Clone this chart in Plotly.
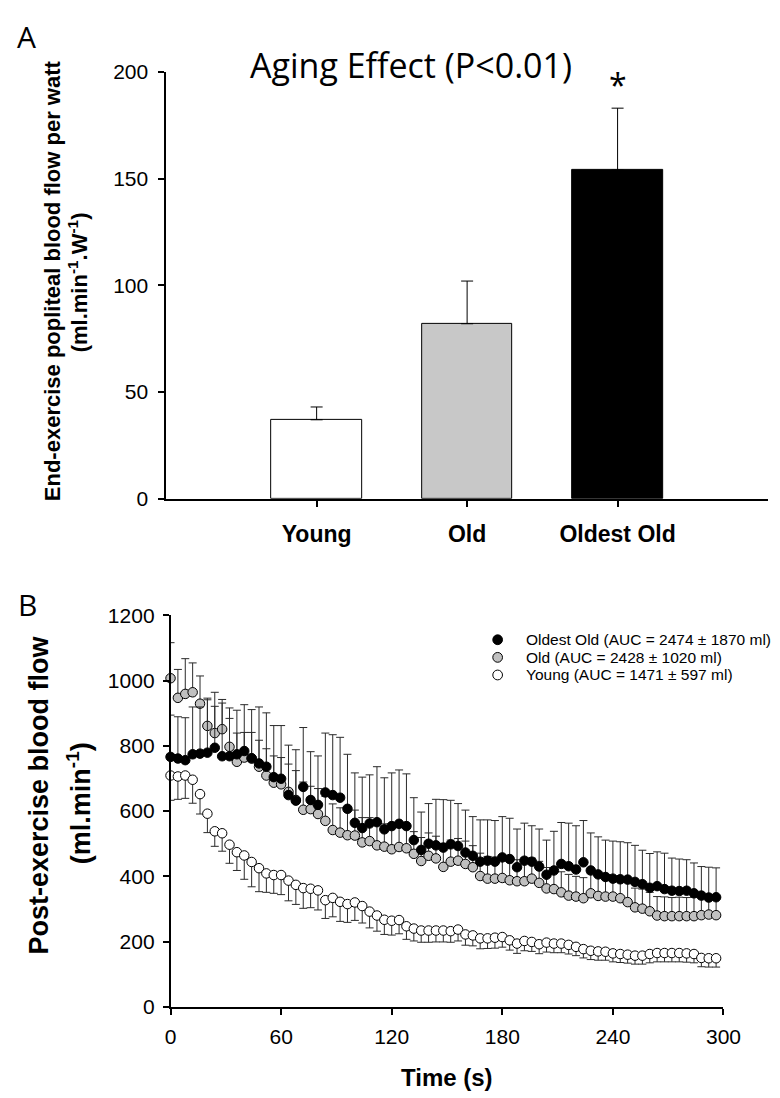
import plotly.graph_objects as go

# ---------------- Panel A data ----------------
groups = ["Young", "Old", "Oldest Old"]
group_pos = [0, 1, 2]
flow_per_watt = [37, 82, 154]
flow_per_watt_err = [6, 20, 29]
bar_colors = ["#ffffff", "#c8c8c8", "#000000"]

# ---------------- Panel B data ----------------
time_s = [0, 4, 8, 12, 16, 20, 24, 28, 32, 36, 40, 44, 48, 52, 56, 60, 64, 68, 72, 76,
          80, 84, 88, 92, 96, 100, 104, 108, 112, 116, 120, 124, 128, 132, 136, 140, 144, 148, 152, 156,
          160, 164, 168, 172, 176, 180, 184, 188, 192, 196, 200, 204, 208, 212, 216, 220, 224, 228, 232, 236,
          240, 244, 248, 252, 256, 260, 264, 268, 272, 276, 280, 284, 288, 292, 296]

oldest_old = [766, 761, 756, 774, 776, 779, 794, 768, 768, 774, 784, 762, 746, 736, 704, 699, 649, 632, 674, 634,
              619, 657, 649, 641, 607, 564, 548, 562, 566, 544, 554, 561, 554, 511, 481, 500, 495, 488, 498, 493,
              473, 463, 445, 448, 445, 458, 453, 428, 448, 445, 430, 405, 418, 438, 431, 421, 443, 418, 406, 398,
              393, 391, 390, 383, 376, 365, 370, 361, 356, 355, 356, 348, 341, 335, 336]
oldest_old_err = [128, 128, 130, 145, 143, 167, 170, 174, 148, 135, 142, 149, 173, 165, 158, 163, 153, 156, 182, 148,
                  150, 182, 185, 185, 167, 153, 156, 149, 170, 158, 163, 165, 160, 130, 116, 123, 141, 147, 135, 130,
                  130, 120, 128, 125, 126, 125, 125, 117, 115, 110, 115, 106, 120, 127, 132, 134, 128, 115, 115, 113,
                  115, 115, 113, 112, 104, 105, 105, 110, 100, 98, 95, 93, 89, 93, 90]

old = [1007, 947, 959, 964, 929, 861, 839, 851, 797, 751, 764, 761, 736, 709, 687, 682, 659, 634, 604, 606,
       591, 570, 542, 534, 526, 525, 504, 508, 495, 491, 483, 490, 486, 469, 447, 463, 455, 429, 445, 448,
       438, 428, 401, 393, 393, 395, 388, 385, 385, 393, 380, 363, 361, 351, 341, 338, 333, 348, 340, 338,
       338, 333, 321, 305, 301, 293, 280, 278, 278, 278, 278, 278, 281, 283, 281]
old_err = [109, 87, 108, 90, 85, 80, 82, 80, 87, 88, 77, 80, 81, 82, 82, 82, 85, 90, 85, 70,
           78, 75, 80, 76, 74, 78, 76, 72, 75, 70, 74, 72, 70, 68, 72, 70, 68, 72, 66, 68,
           70, 66, 70, 68, 66, 67, 65, 66, 64, 63, 66, 64, 62, 63, 65, 62, 63, 60, 61, 60,
           62, 60, 61, 59, 60, 58, 58, 59, 57, 58, 57, 58, 56, 57, 56]

young = [709, 706, 709, 696, 652, 592, 538, 532, 497, 474, 464, 444, 425, 409, 404, 404, 387, 374, 364, 362,
         357, 327, 334, 322, 315, 320, 309, 292, 280, 267, 264, 266, 247, 240, 234, 234, 234, 234, 232, 237,
         222, 219, 210, 210, 212, 214, 204, 194, 202, 199, 192, 197, 194, 194, 190, 184, 177, 172, 170, 169,
         164, 162, 160, 157, 157, 162, 165, 165, 165, 165, 164, 162, 150, 149, 149]
young_err = [76, 70, 70, 72, 61, 58, 46, 55, 57, 56, 73, 76, 72, 58, 56, 60, 62, 60, 62, 58,
             60, 56, 58, 60, 56, 55, 52, 50, 48, 45, 44, 42, 40, 38, 36, 36, 35, 35, 34, 35,
             33, 32, 32, 31, 32, 31, 30, 30, 30, 29, 29, 29, 28, 28, 28, 27, 27, 27, 27, 26,
             26, 26, 26, 26, 26, 27, 27, 27, 27, 27, 27, 27, 27, 27, 27]

legend_labels = ["Oldest Old (AUC = 2474 \u00b1 1870 ml)",
                 "Old (AUC = 2428 \u00b1 1020 ml)",
                 "Young (AUC = 1471 \u00b1 597 ml)"]
legend_fills = ["black", "#c0c0c0", "white"]

y_ticks_a = [0, 50, 100, 150, 200]
y_ticks_b = [0, 200, 400, 600, 800, 1000, 1200]
x_ticks_b = [0, 60, 120, 180, 240, 300]

W, H = 780, 1098
SANS = "Liberation Sans, Arial, sans-serif"
CAL = "Open Sans, sans-serif"
ERRC = "#2a2a2a"
MSIZE = 9.5

fig = go.Figure()

# Panel A bars
fig.add_trace(go.Bar(
    x=group_pos, y=flow_per_watt, width=0.6,
    marker=dict(color=bar_colors, line=dict(color="black", width=1)),
    error_y=dict(type="data", array=flow_per_watt_err, arrayminus=[0, 0, 0], symmetric=False,
                 color="black", thickness=1, width=6),
    showlegend=False, xaxis="x", yaxis="y"))

# Panel B scatter (draw order: old, oldest old, young)
fig.add_trace(go.Scatter(
    x=time_s, y=old, mode="markers", name=legend_labels[1], showlegend=False,
    marker=dict(symbol="circle", size=MSIZE, color="#c0c0c0", line=dict(color="black", width=1)),
    error_y=dict(type="data", array=old_err, arrayminus=[0] * len(old_err), symmetric=False,
                 color=ERRC, thickness=1, width=4),
    cliponaxis=False, xaxis="x2", yaxis="y2"))
fig.add_trace(go.Scatter(
    x=time_s, y=oldest_old, mode="markers", name=legend_labels[0], showlegend=False,
    marker=dict(symbol="circle", size=MSIZE, color="black", line=dict(color="black", width=1)),
    error_y=dict(type="data", array=oldest_old_err, arrayminus=[0] * len(oldest_old_err), symmetric=False,
                 color=ERRC, thickness=1, width=4),
    cliponaxis=False, xaxis="x2", yaxis="y2"))
fig.add_trace(go.Scatter(
    x=time_s, y=young, mode="markers", name=legend_labels[2], showlegend=False,
    marker=dict(symbol="circle", size=MSIZE, color="white", line=dict(color="black", width=1)),
    error_y=dict(type="data", array=[0] * len(young_err), arrayminus=young_err, symmetric=False,
                 color=ERRC, thickness=1, width=4),
    cliponaxis=False, xaxis="x2", yaxis="y2"))

axis_common = dict(showline=True, linecolor="black", linewidth=1.5, ticks="outside", ticklen=6,
                   tickwidth=1.5, tickcolor="black", showgrid=False, zeroline=False, mirror=False)

fig.update_layout(
    width=W, height=H, autosize=False,
    margin=dict(l=0, r=0, t=0, b=0),
    paper_bgcolor="white", plot_bgcolor="white",
    bargap=0, showlegend=False,
    xaxis=dict(domain=[157 / W, 778 / W], range=[-1, 3], tickvals=group_pos, ticktext=groups,
               tickfont=dict(family=SANS, size=23, color="black", weight="bold"),
               ticklabelstandoff=8, anchor="y", **axis_common),
    yaxis=dict(domain=[1 - 489 / H, 1 - 53 / H], range=[0, 200], tickvals=y_ticks_a,
               tickfont=dict(family=SANS, size=21, color="black"), ticklabelstandoff=6,
               anchor="x", **axis_common),
    xaxis2=dict(domain=[161.5 / W, 732 / W], range=[0, 300], tickvals=x_ticks_b,
                tickfont=dict(family=SANS, size=21, color="black"), ticklabelstandoff=4,
                anchor="y2", **axis_common),
    yaxis2=dict(domain=[1 - 1008 / H, 1 - 608 / H], range=[0, 1200], tickvals=y_ticks_b,
                tickfont=dict(family=SANS, size=21, color="black"), ticklabelstandoff=4,
                anchor="x2", **axis_common),
)

ann = []
shapes = []
# Panel labels
ann.append(dict(text="A", x=1 / W, y=1 - 17 / H, xref="paper", yref="paper", xanchor="left", yanchor="middle",
                showarrow=False, font=dict(family=CAL, size=30, color="black")))
ann.append(dict(text="B", x=2 / W, y=1 - 597 / H, xref="paper", yref="paper", xanchor="left", yanchor="middle",
                showarrow=False, font=dict(family=CAL, size=30, color="black")))
# Panel A title
ann.append(dict(text="Aging Effect (P<0.01)", x=410 / W, y=1 - 46 / H, xref="paper", yref="paper",
                xanchor="center", yanchor="middle", showarrow=False,
                font=dict(family=CAL, size=34, color="black")))
# Asterisk
ann.append(dict(text="*", x=group_pos[2], y=194, xref="x", yref="y", xanchor="center", yanchor="middle",
                showarrow=False, font=dict(family=CAL, size=32, color="black")))
# Panel A y title (two lines)
ann.append(dict(text="<b>End-exercise popliteal blood flow per watt</b>", x=40 / W, y=1 - 266 / H,
                xref="paper", yref="paper", xanchor="center", yanchor="middle", textangle=-90,
                showarrow=False, font=dict(family=SANS, size=22, color="black")))
ann.append(dict(text="<b>(ml.min<sup>-1</sup>.W<sup>-1</sup>)</b>", x=66 / W, y=1 - 268 / H,
                xref="paper", yref="paper", xanchor="center", yanchor="middle", textangle=-90,
                showarrow=False, font=dict(family=SANS, size=22, color="black")))
# Panel B y title
ann.append(dict(text="<b>Post-exercise blood flow</b>", x=26 / W, y=1 - 792 / H,
                xref="paper", yref="paper", xanchor="center", yanchor="middle", textangle=-90,
                showarrow=False, font=dict(family=SANS, size=27, color="black")))
ann.append(dict(text="<b>(ml.min<sup>-1</sup>)</b>", x=67 / W, y=1 - 800 / H,
                xref="paper", yref="paper", xanchor="center", yanchor="middle", textangle=-90,
                showarrow=False, font=dict(family=SANS, size=27, color="black")))
# Panel B x title
ann.append(dict(text="<b>Time (s)</b>", x=447 / W, y=1 - 1080 / H, xref="paper", yref="paper",
                xanchor="center", yanchor="middle", showarrow=False,
                font=dict(family=SANS, size=24, color="black")))

# Panel B legend (symbol + text rows)
leg_x_sym, leg_x_txt = 499, 526
leg_rows = [633, 651, 669]
for lab, fill, yy in zip(legend_labels, legend_fills, leg_rows):
    shapes.append(dict(type="circle", xref="paper", yref="paper",
                       x0=(leg_x_sym - 5) / W, x1=(leg_x_sym + 5) / W,
                       y0=1 - (yy + 5) / H, y1=1 - (yy - 5) / H,
                       fillcolor=fill, line=dict(color="black", width=1)))
    ann.append(dict(text=lab, x=leg_x_txt / W, y=1 - yy / H, xref="paper", yref="paper",
                    xanchor="left", yanchor="middle", showarrow=False,
                    font=dict(family=SANS, size=15.5, color="black")))

fig.update_layout(annotations=ann, shapes=shapes)

fig.write_html("out.html")
